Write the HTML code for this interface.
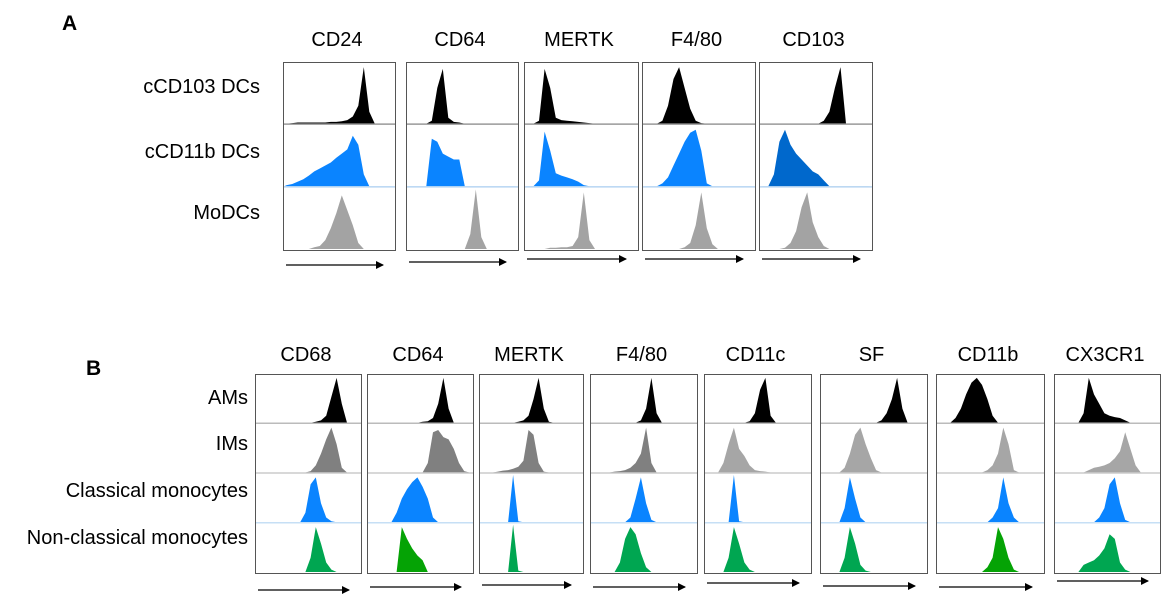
<!DOCTYPE html>
<html><head><meta charset="utf-8"><style>
html,body{margin:0;padding:0;background:#fff;}
svg{display:block;font-family:"Liberation Sans",sans-serif;}
</style></head><body>
<svg id="fig" width="1173" height="600" viewBox="0 0 1173 600"></svg>
<script>
// Panel A data: markers, rows, histogram heights (20 bins, % of row height)
const aMarkers = ["CD24","CD64","MERTK","F4/80","CD103"];
const aRows = ["cCD103 DCs","cCD11b DCs","MoDCs"];
const A_CD24 = [
 [0,1,2,2,2,2,2,2,3,3,4,6,12,30,95,20,0,0,0,0],
 [2,4,8,12,18,25,30,35,40,48,55,62,85,70,20,0,0,0,0,0],
 [0,0,0,0,0,3,5,15,35,60,90,65,40,10,0,0,0,0,0,0]];
const A_CD64 = [
 [0,0,0,0,5,60,92,10,3,2,0,0,0,0,0,0,0,0,0,0],
 [0,0,0,0,80,75,55,50,45,45,0,0,0,0,0,0,0,0,0,0],
 [0,0,0,0,0,0,0,0,0,0,0,25,100,20,0,0,0,0,0,0]];
const A_MERTK = [
 [0,0,5,92,60,10,6,5,4,3,2,1,0,0,0,0,0,0,0,0],
 [0,0,10,92,60,22,18,15,12,8,2,0,0,0,0,0,0,0,0,0],
 [0,0,0,0,2,2,3,3,5,20,95,15,0,0,0,0,0,0,0,0]];
const A_F480 = [
 [0,0,0,5,30,75,95,60,25,5,1,0,0,0,0,0,0,0,0,0],
 [0,0,0,5,15,35,55,75,90,95,60,5,0,0,0,0,0,0,0,0],
 [0,0,0,0,0,0,0,3,10,40,95,35,8,0,0,0,0,0,0,0]];
const A_CD103 = [
 [0,0,0,0,0,0,0,0,0,0,0,5,20,60,95,0,0,0,0,0],
 [0,0,20,75,95,70,55,45,35,25,20,10,0,0,0,0,0,0,0,0],
 [0,0,0,0,2,10,30,70,95,45,20,5,0,0,0,0,0,0,0,0]];
// Panel B data
const bMarkers = ["CD68","CD64","MERTK","F4/80","CD11c","SF","CD11b","CX3CR1"];
const bRows = ["AMs","IMs","Classical monocytes","Non-classical monocytes"];
const B_CD68 = [
 [0,0,0,0,0,0,0,0,0,0,0,2,5,15,55,95,40,0,0,0],
 [0,0,0,0,0,0,0,0,0,0,3,15,40,70,95,60,10,0,0,0],
 [0,0,0,0,0,0,0,0,0,20,80,95,40,10,2,0,0,0,0,0],
 [0,0,0,0,0,0,0,0,0,0,30,95,60,20,5,0,0,0,0,0]];
const B_CD64 = [
 [0,0,0,0,0,0,0,0,0,0,2,3,10,40,95,30,0,0,0,0],
 [0,0,0,0,0,0,0,0,0,0,0,20,85,90,75,70,50,20,3,0],
 [0,0,0,0,0,20,50,70,85,95,75,50,10,0,0,0,0,0,0,0],
 [0,0,0,0,0,0,95,70,50,35,25,0,0,0,0,0,0,0,0,0]];
const B_MERTK = [
 [0,0,0,0,0,0,0,2,5,15,50,95,30,2,0,0,0,0,0,0],
 [0,0,0,2,4,5,8,12,25,90,80,20,2,0,0,0,0,0,0,0],
 [0,0,0,0,0,0,100,2,0,0,0,0,0,0,0,0,0,0,0,0],
 [0,0,0,0,0,0,100,3,0,0,0,0,0,0,0,0,0,0,0,0]];
const B_F480 = [
 [0,0,0,0,0,0,0,0,0,5,30,95,20,0,0,0,0,0,0,0],
 [0,0,0,0,2,3,5,10,20,40,95,20,0,0,0,0,0,0,0,0],
 [0,0,0,0,0,0,0,10,50,95,40,5,0,0,0,0,0,0,0,0],
 [0,0,0,0,0,20,70,95,80,40,10,0,0,0,0,0,0,0,0,0]];
const B_CD11c = [
 [0,0,0,0,0,0,0,0,3,20,70,95,15,0,0,0,0,0,0,0],
 [0,0,0,20,60,95,50,35,15,5,3,2,0,0,0,0,0,0,0,0],
 [0,0,0,0,0,100,2,0,0,0,0,0,0,0,0,0,0,0,0,0],
 [0,0,0,0,30,95,60,20,5,0,0,0,0,0,0,0,0,0,0,0]];
const B_SF = [
 [0,0,0,0,0,0,0,0,0,0,0,5,20,50,95,30,0,0,0,0],
 [0,0,0,0,10,40,80,95,60,30,5,0,0,0,0,0,0,0,0,0],
 [0,0,0,0,30,95,50,10,0,0,0,0,0,0,0,0,0,0,0,0],
 [0,0,0,0,30,95,60,15,3,0,0,0,0,0,0,0,0,0,0,0]];
const B_CD11b = [
 [0,0,0,10,30,60,85,95,80,50,15,0,0,0,0,0,0,0,0,0],
 [0,0,0,0,0,0,0,0,0,5,15,40,95,60,5,0,0,0,0,0],
 [0,0,0,0,0,0,0,0,0,0,10,30,95,40,10,0,0,0,0,0],
 [0,0,0,0,0,0,0,0,0,10,30,95,70,30,5,0,0,0,0,0]];
const B_CX3CR1 = [
 [0,0,0,0,0,20,95,60,40,20,15,12,10,5,0,0,0,0,0,0],
 [0,0,0,0,0,0,5,10,12,15,20,30,45,85,50,15,0,0,0,0],
 [0,0,0,0,0,0,0,0,10,30,80,95,40,5,0,0,0,0,0,0],
 [0,0,0,0,0,15,20,25,35,50,80,70,20,5,0,0,0,0,0,0]];

const aData = [A_CD24, A_CD64, A_MERTK, A_F480, A_CD103];
const bData = [B_CD68, B_CD64, B_MERTK, B_F480, B_CD11c, B_SF, B_CD11b, B_CX3CR1];

const NS = "http://www.w3.org/2000/svg";
const svg = document.getElementById("fig");
function mk(tag, attrs, parent){const e=document.createElementNS(NS,tag);for(const k in attrs)e.setAttribute(k,attrs[k]);(parent||svg).appendChild(e);return e;}
function txt(x,y,s,anchor,size,weight){const t=mk("text",{x:x,y:y,"text-anchor":anchor,"font-size":size,"font-weight":weight||"normal",fill:"#000"});t.textContent=s;return t;}

const defs=mk("defs",{});
const mkr=mk("marker",{id:"ah",markerWidth:8,markerHeight:8,refX:7,refY:4,orient:"auto",markerUnits:"userSpaceOnUse"},defs);
mk("path",{d:"M0,0 L8,4 L0,8 z",fill:"#000"},mkr);

function drawHist(g, vals, x0, w, yBase, h, color){
  const n = vals.length;
  const xs = i => x0 + (i+0.5)*w/n;
  const ys = v => yBase - (v/100)*h*0.95;
  let d = "M"+x0+","+yBase;
  for(let i=0;i<n;i++){ d += " L"+xs(i).toFixed(1)+","+ys(vals[i]).toFixed(1); }
  d += " L"+(x0+w)+","+yBase+" Z";
  const p = mk("path",{d:d,fill:color,stroke:"none"},g);
  return p;
}

function panel(boxes, data, markers, rows, colors, lineColors, top, bottom, titleY, labelX, labelYs, arrowYs, pname){
  const rowH = (bottom-top)/rows.length;
  boxes.forEach((b,mi)=>{
    const g = mk("g",{});
    
    
    const x0=b[0], w=b[1]-b[0];
    data[mi].forEach((vals,ri)=>{
      const base = top + rowH*(ri+1) - 1;
      const p = drawHist(g, vals, x0+1, w-2, base, rowH, colors[mi][ri]);
      
      
      if(ri<rows.length-1) mk("line",{x1:x0,x2:b[1],y1:base+0.5,y2:base+0.5,stroke:lineColors[ri],"stroke-width":1.5},g);
    });
    const r = mk("rect",{x:x0+0.5,y:top+0.5,width:w,height:bottom-top,fill:"none",stroke:"#555","stroke-width":1},g);
    
    
    const t = txt((b[0]+b[1])/2 - 2, titleY, markers[mi], "middle", 20);
    
    
    const ay = arrowYs[mi];
    const a = mk("line",{x1:x0+3,x2:x0+w-12,y1:ay,y2:ay,stroke:"#000","stroke-width":1.3,"marker-end":"url(#ah)"});
    
    
  });
  rows.forEach((r,ri)=>{
    const t = txt(labelX, labelYs[ri], r, "end", 20);
    
    
  });
}

const blue="#0a84ff", green="#00a651", green2="#05a305";
// Panel A
const aBoxes=[[283,395],[406,518],[524,638],[642,755],[759,872]];
const aColors=aBoxes.map((b,i)=>["#000", i==4?"#0068cc":blue, "#a3a3a3"]);
panel(aBoxes,aData,aMarkers,aRows,aColors,["#999","#bcd8f2"],62,250,46,260,[93,158,219],[265,262,259,259,259],"panel-a");
const la = txt(62,30,"A","start",21,"bold");



// Panel B
const bBoxes=[[255,361],[367,473],[479,583],[590,697],[704,811],[820,927],[936,1044],[1054,1160]];
const bColors=bBoxes.map((b,i)=>["#000", i<4?"#808080":"#a6a6a6", blue, (i==1||i==6)?green2:green]);
panel(bBoxes,bData,bMarkers,bRows,bColors,["#bbb","#ccc","#c6dff5"],374,573,361,248,[404,450,497,544],[590,587,585,587,583,586,587,581],"panel-b");
const lb = txt(86,375,"B","start",21,"bold");


</script>
</body></html>
